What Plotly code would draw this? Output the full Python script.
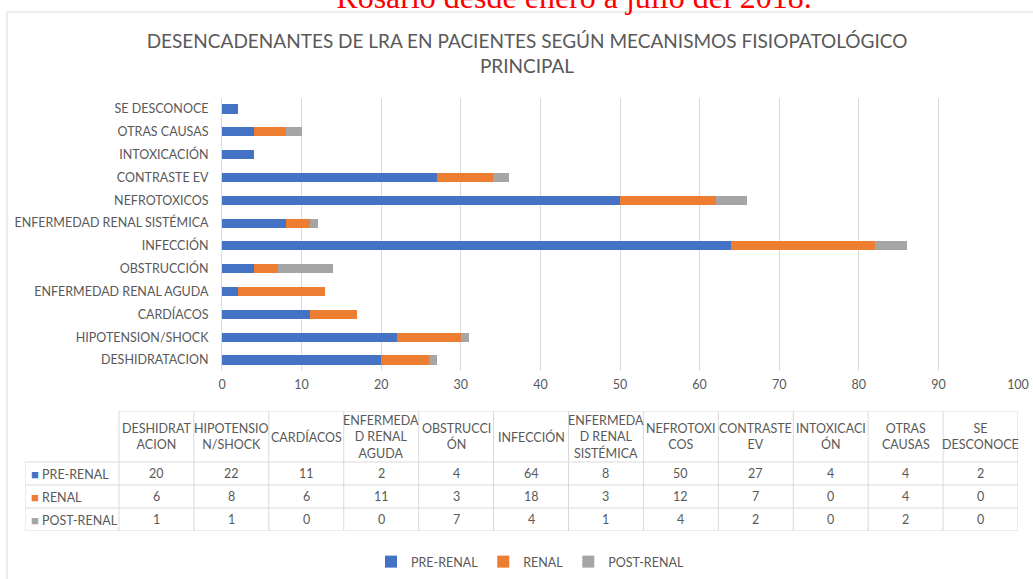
import plotly.graph_objects as go

# ---------------- data ----------------
categories = ["DESHIDRATACION", "HIPOTENSION/SHOCK", "CARDÍACOS", "ENFERMEDAD RENAL AGUDA",
              "OBSTRUCCIÓN", "INFECCIÓN", "ENFERMEDAD RENAL SISTÉMICA", "NEFROTOXICOS",
              "CONTRASTE EV", "INTOXICACIÓN", "OTRAS CAUSAS", "SE DESCONOCE"]
table_headers = ["DESHIDRAT<br>ACION", "HIPOTENSIO<br>N/SHOCK", "CARDÍACOS", "ENFERMEDA<br>D RENAL<br>AGUDA",
                 "OBSTRUCCI<br>ÓN", "INFECCIÓN", "ENFERMEDA<br>D RENAL<br>SISTÉMICA", "NEFROTOXI<br>COS",
                 "CONTRASTE<br>EV", "INTOXICACI<br>ÓN", "OTRAS<br>CAUSAS", "SE<br>DESCONOCE"]
series_names = ["PRE-RENAL", "RENAL", "POST-RENAL"]
pre_renal = [20, 22, 11, 2, 4, 64, 8, 50, 27, 4, 4, 2]
renal = [6, 8, 6, 11, 3, 18, 3, 12, 7, 0, 4, 0]
post_renal = [1, 1, 0, 0, 7, 4, 1, 4, 2, 0, 2, 0]
x_ticks = [0, 10, 20, 30, 40, 50, 60, 70, 80, 90, 100]
caption = "Rosario desde enero a julio del 2018."

colors = ["#4472C4", "#ED7D31", "#A5A5A5"]
TXT = "#595959"
GRID = "#D9D9D9"
FONT = "Lato"
W, H = 1033, 579

fig = go.Figure()
for name, vals, col in zip(series_names, [pre_renal, renal, post_renal], colors):
    fig.add_trace(go.Bar(y=categories, x=vals, orientation="h", name=name,
                         marker=dict(color=col, line=dict(width=0)),
                         xaxis="x", yaxis="y"))

# ---------------- layout geometry ----------------
plot_left, plot_right, plot_top, plot_bottom = 222, 1018, 97.6, 371.4
tab_left, tab_right, tab_top, tab_bottom = 25, 1018, 411, 531
first_col_w = 94.0
row_h = [51, 23, 23, 23]
col_w = (tab_right - tab_left - first_col_w) / len(categories)
x2_min = -0.5 - first_col_w / col_w
x2_max = len(categories) - 0.5
row_edges = [0]
for h in row_h:
    row_edges.append(row_edges[-1] + h)

fig.update_layout(
    width=W, height=H, template="none",
    margin=dict(l=0, r=0, t=0, b=0),
    paper_bgcolor="white", plot_bgcolor="white",
    font=dict(family=FONT, color=TXT, size=12.5),
    barmode="stack", bargap=0.6,
    title=dict(text="DESENCADENANTES DE LRA EN PACIENTES SEGÚN MECANISMOS FISIOPATOLÓGICO<br>PRINCIPAL",
               font=dict(family=FONT, size=19, color=TXT),
               x=527 / W, xanchor="center", xref="paper",
               y=1 - 48 / H, yanchor="top", yref="container"),
    xaxis=dict(domain=[plot_left / W, plot_right / W], range=[0, 100],
               tickvals=x_ticks, showgrid=True, gridcolor=GRID, gridwidth=1,
               zeroline=False, showline=False, ticks="", ticklabelstandoff=4,
               tickfont=dict(size=12.5, color=TXT), anchor="y", fixedrange=True),
    yaxis=dict(domain=[1 - plot_bottom / H, 1 - plot_top / H], type="category",
               categoryorder="array", categoryarray=categories,
               showgrid=False, zeroline=False, showline=True, linecolor=GRID, linewidth=1,
               ticks="", ticklabelstandoff=10, tickfont=dict(size=12.5, color=TXT),
               anchor="x", fixedrange=True),
    xaxis2=dict(domain=[tab_left / W, tab_right / W], range=[x2_min, x2_max],
                visible=False, anchor="y2", fixedrange=True),
    yaxis2=dict(domain=[1 - tab_bottom / H, 1 - tab_top / H], range=[row_edges[-1], 0],
                visible=False, anchor="x2", fixedrange=True),
    legend=dict(orientation="h", x=530 / W, xanchor="center", y=1 - 562 / H, yanchor="middle",
                font=dict(size=12.5, color=TXT), traceorder="normal", bgcolor="rgba(0,0,0,0)",
                itemwidth=30),
    showlegend=True,
)

shapes = []
# chart frame
shapes.append(dict(type="rect", xref="paper", yref="paper", x0=7 / W, x1=1.02, y0=-0.02, y1=1 - 12 / H,
                   line=dict(color=GRID, width=1), fillcolor="rgba(0,0,0,0)", layer="below"))
# red caption of the page above the chart, cut by the top edge (as in the reference)
cap_y = 1 - 12 / H
shapes.append(dict(type="line", xref="paper", yref="paper", x0=324 / W, x1=824 / W, y0=cap_y, y1=cap_y,
                   line=dict(color="rgba(0,0,0,0)", width=0),
                   label=dict(text=caption, textposition="middle", yanchor="bottom", padding=0,
                              font=dict(family="Liberation Serif", size=32, color="#FF0000"))))
# table grid
shapes.append(dict(type="line", xref="x2", yref="y2", x0=-0.5, x1=x2_max, y0=0, y1=0,
                   line=dict(color=GRID, width=1)))
for yy in row_edges[1:]:
    shapes.append(dict(type="line", xref="x2", yref="y2", x0=x2_min, x1=x2_max, y0=yy, y1=yy,
                       line=dict(color=GRID, width=1)))
shapes.append(dict(type="line", xref="x2", yref="y2", x0=x2_min, x1=x2_min, y0=row_edges[1], y1=row_edges[-1],
                   line=dict(color=GRID, width=1)))
for k in range(len(categories) + 1):
    xx = -0.5 + k
    shapes.append(dict(type="line", xref="x2", yref="y2", x0=xx, x1=xx, y0=0, y1=row_edges[-1],
                       line=dict(color=GRID, width=1)))

annotations = []
# table header
for i, hdr in enumerate(table_headers):
    annotations.append(dict(text=hdr, xref="x2", yref="y2", x=i, y=(row_edges[0] + row_edges[1]) / 2,
                            xanchor="center", yanchor="middle", showarrow=False, align="center",
                            font=dict(size=12.5, color=TXT)))
# table rows
for r, (name, vals, col) in enumerate(zip(series_names, [pre_renal, renal, post_renal], colors)):
    yc = (row_edges[r + 1] + row_edges[r + 2]) / 2
    annotations.append(dict(text=f"<span style='color:{col};font-size:13px'>■</span> {name}",
                            xref="x2", yref="y2", x=x2_min + 0.05, y=yc, xanchor="left", yanchor="middle",
                            showarrow=False, font=dict(size=12.5, color=TXT)))
    for i, v in enumerate(vals):
        annotations.append(dict(text=str(v), xref="x2", yref="y2", x=i, y=yc, xanchor="center",
                                yanchor="middle", showarrow=False, font=dict(size=12.5, color=TXT)))

fig.update_layout(shapes=shapes, annotations=annotations)

fig.write_html("out.html", post_script="document.body.style.margin='0';",
               config={"displayModeBar": False})
